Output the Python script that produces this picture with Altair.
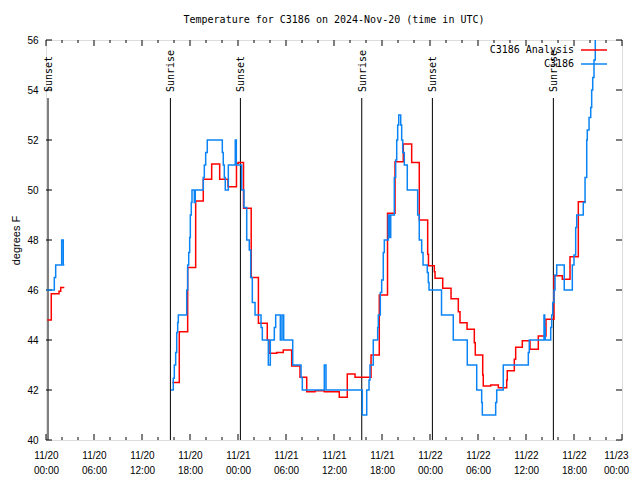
import altair as alt
import pandas as pd

# ---------------- data (hours after 2024-11-20 00:00 UTC, degrees F) ----------------
analysis1_hours = [0.16, 0.66, 1.63, 1.84, 2.29]
analysis1_temps = [44.8, 45.85, 45.95, 46.1, 46.1]

obs1_hours = [0.09, 1.04, 1.21, 1.96, 2.16, 2.29]
obs1_temps = [46.0, 46.5, 47.0, 48.0, 47.0, 47.0]

analysis2_hours = [15.79, 16.66, 17.71, 18.71, 19.66, 20.71, 21.71, 22.75, 23.81, 24.04,
                   24.69, 25.65, 26.55, 27.66, 27.88, 28.84, 29.66, 30.71, 31.75, 32.59,
                   33.63, 34.79, 36.66, 37.66, 38.63, 40.63, 41.66, 42.69, 43.63, 44.66,
                   45.71, 46.66, 47.71, 47.81, 48.54, 48.63, 49.59, 50.63, 51.54, 51.75,
                   52.63, 53.54, 53.66, 54.59, 54.66, 55.59, 56.54, 57.59, 57.66, 58.54,
                   58.71, 59.54, 60.5, 61.54, 62.5, 63.5, 64.54, 65.5, 66.54, 67.5]
analysis2_temps = [42.3, 44.33, 46.9, 49.56, 50.43, 51.04, 50.43, 50.13, 51.07, 51.1,
                   49.27, 46.5, 44.67, 44.0, 43.47, 43.5, 43.6, 42.96, 42.51, 41.93,
                   41.97, 41.93, 41.71, 42.64, 42.51, 43.4, 45.8, 49.07, 51.13, 51.84,
                   51.1, 48.8, 47.43, 46.97, 46.73, 46.47, 46.07, 45.65, 45.13, 44.69,
                   44.43, 43.89, 43.4, 42.6, 42.16, 42.2, 42.09, 42.4, 42.77, 43.23,
                   43.71, 43.97, 43.63, 44.16, 44.83, 46.57, 46.43, 47.33, 49.53, 49.53]

obs2_hours = [15.63, 15.91, 16.04, 16.21, 16.34, 16.46, 16.54, 17.59, 17.71, 17.84,
              17.96, 18.04, 18.16, 18.25, 18.54, 18.66, 19.66, 19.79, 19.96, 20.16,
              22.04, 22.16, 22.29, 22.41, 22.79, 23.66, 23.79, 24.46, 24.75, 25.09,
              25.41, 25.59, 25.79, 26.13, 26.88, 27.04, 27.79, 28.04, 28.54, 28.71,
              29.29, 29.5, 29.71, 30.84, 31.88, 32.04, 34.79, 35.0, 39.54, 40.09,
              40.38, 40.5, 40.91, 41.46, 41.54, 41.79, 41.96, 42.16, 42.29, 42.79,
              42.91, 43.09, 43.54, 43.71, 43.84, 43.96, 44.09, 44.34, 44.46, 44.59,
              44.79, 45.16, 46.46, 46.66, 46.96, 47.13, 47.66, 47.79, 47.88, 49.44,
              50.91, 52.66, 53.84, 54.46, 54.54, 56.21, 56.34, 57.16, 60.29, 60.41,
              62.25, 62.34, 62.41, 63.09, 63.21, 63.34, 63.5, 63.63, 63.84, 64.78,
              65.79, 66.0, 66.21, 66.34, 67.16, 67.38, 67.59, 67.66, 67.88, 68.09,
              68.21, 68.34, 68.5, 68.66]
obs2_temps = [42.0, 42.47, 43.0, 43.5, 44.3, 44.7, 45.0, 46.0, 47.0, 47.5,
              48.1, 49.0, 49.5, 50.0, 49.5, 50.0, 50.5, 51.0, 51.5, 52.0,
              51.5, 51.0, 50.5, 50.0, 51.0, 52.0, 51.0, 50.0, 49.3, 48.0,
              47.6, 46.5, 45.5, 45.0, 44.5, 44.0, 43.0, 44.0, 44.5, 45.0,
              44.0, 45.0, 44.0, 43.0, 42.5, 42.0, 43.0, 42.0, 41.0, 42.0,
              42.4, 43.0, 44.0, 44.5, 45.0, 45.9, 46.4, 47.5, 48.0, 49.0,
              48.1, 49.0, 50.5, 51.2, 52.0, 52.6, 53.0, 52.6, 52.0, 51.5,
              51.0, 50.0, 49.0, 48.0, 47.5, 47.0, 46.7, 46.3, 46.0, 45.0,
              44.0, 43.0, 42.0, 41.5, 41.0, 41.5, 42.0, 43.0, 43.5, 44.0,
              45.0, 44.5, 44.0, 44.5, 45.0, 45.5, 46.0, 46.6, 47.0, 46.0,
              47.0, 47.4, 48.5, 49.0, 49.5, 50.5, 52.0, 52.4, 52.9, 53.3,
              54.0, 54.5, 55.2, 57.5]

event_names = ["Sunset", "Sunrise", "Sunset", "Sunrise", "Sunset", "Sunrise"]
event_hours = [0.25, 15.55, 24.3, 39.47, 48.3, 63.42]

series_names = ["C3186 Analysis", "C3186"]
series_colors = ["#ff0000", "#0a84f5"]

x_major_hours = list(range(0, 73, 6))
x_minor_hours = [h for h in range(2, 72, 2) if h % 6 != 0]
y_ticks = [40, 42, 44, 46, 48, 50, 52, 54, 56]

# ---------------- helpers ----------------
BASE_MS = int(pd.Timestamp("2024-11-20T00:00:00Z").value // 10**6)
HOUR_MS = 3600 * 1000
END_MS = BASE_MS + 72 * HOUR_MS


def to_ms(hours):
    return [BASE_MS + h * HOUR_MS for h in hours]


def series_frame(name, segs):
    rows = []
    for i, (hrs, tmp) in enumerate(segs):
        for h, v in zip(hrs, tmp):
            rows.append({"series": name, "seg": i, "t": BASE_MS + h * HOUR_MS, "v": v})
    return pd.DataFrame(rows)


W, H = 576, 400
FONT = "DejaVu Sans Mono"

analysis_df = series_frame(series_names[0], [(analysis1_hours, analysis1_temps),
                                             (analysis2_hours, analysis2_temps)])
obs_df = series_frame(series_names[1], [(obs1_hours, obs1_temps),
                                        (obs2_hours, obs2_temps)])
events_df = pd.DataFrame({"t": to_ms(event_hours), "name": event_names})
xmaj_df = pd.DataFrame({"t": to_ms(x_major_hours)})
xmin_df = pd.DataFrame({"t": to_ms(x_minor_hours)})
ytk_df = pd.DataFrame({"v": y_ticks})

xscale = alt.Scale(type="utc", domain=[BASE_MS, END_MS])
yscale = alt.Scale(domain=[40, 56], nice=False, zero=False)

xaxis = alt.Axis(
    values=to_ms(x_major_hours),
    labelExpr="[utcFormat(datum.value, '%m/%d'), utcFormat(datum.value, '%H:%M')]",
    tickSize=0, domain=False, grid=False, labelPadding=10, labelLineHeight=15,
    labelFlush=False, labelOverlap=False, labelBound=False, title=None,
    labelOffset={"condition": {"test": f"datum.value >= {END_MS}", "value": -6}, "value": 0},
)
yaxis = alt.Axis(
    values=y_ticks, tickSize=0, domain=False, grid=False, labelPadding=8,
    title="degrees F", titleX=-30, titleY=200, titleBaseline="middle",
    titleFontWeight="normal",
)


def X():
    return alt.X("t:Q", type="temporal", scale=xscale, axis=xaxis)


def Y():
    return alt.Y("v:Q", scale=yscale, axis=yaxis)


color = alt.Color(
    "series:N",
    scale=alt.Scale(domain=series_names, range=series_colors),
    legend=alt.Legend(
        title=None, orient="none", legendX=431, legendY=5, padding=0,
        symbolType="M99,0H125", symbolSize=4, symbolStrokeWidth=1.5,
        labelAlign="right", labelOffset=87, labelFont=FONT, labelFontSize=10,
        labelColor="black", rowPadding=4, labelBaseline="middle",
    ),
)

analysis_line = alt.Chart(analysis_df).mark_line(
    interpolate="step-after", strokeWidth=1.5, clip=True
).encode(x=X(), y=Y(), color=color, detail="seg:N")

obs_line = alt.Chart(obs_df).mark_line(
    interpolate="step-after", strokeWidth=1.5, clip=True
).encode(x=X(), y=Y(), color=color, detail="seg:N")

event_rules = alt.Chart(events_df).mark_rule(color="black", strokeWidth=1).encode(
    x=X(), y=alt.value(58), y2=alt.value(H)
)
event_text = alt.Chart(events_df).mark_text(
    angle=270, align="left", baseline="middle", font=FONT, fontSize=10, color="black", dy=1
).encode(x=X(), y=alt.value(52), text="name:N")

xmaj_bot = alt.Chart(xmaj_df).mark_rule(color="black").encode(
    x=X(), y=alt.value(H), y2=alt.value(H - 6))
xmaj_top = alt.Chart(xmaj_df).mark_rule(color="black").encode(
    x=X(), y=alt.value(0), y2=alt.value(6))
xmin_bot = alt.Chart(xmin_df).mark_rule(color="black").encode(
    x=X(), y=alt.value(H), y2=alt.value(H - 3))
xmin_top = alt.Chart(xmin_df).mark_rule(color="black").encode(
    x=X(), y=alt.value(0), y2=alt.value(3))
y_left = alt.Chart(ytk_df).mark_rule(color="black").encode(
    y=Y(), x=alt.value(0), x2=alt.value(6))
y_right = alt.Chart(ytk_df).mark_rule(color="black").encode(
    y=Y(), x=alt.value(W), x2=alt.value(W - 6))

chart = alt.layer(
    xmaj_bot, xmaj_top, xmin_bot, xmin_top, y_left, y_right,
    event_rules, event_text, analysis_line, obs_line,
).properties(
    width=W, height=H,
    autosize=alt.AutoSizeParams(type="none"),
    padding={"left": 38, "top": 32, "right": 10, "bottom": 38},
    title=alt.TitleParams(
        "Temperature for C3186 on 2024-Nov-20 (time in UTC)",
        font=FONT, fontSize=10, fontWeight="normal", anchor="middle",
        baseline="middle", offset=5, color="black",
    ),
).configure_view(
    stroke="black", strokeWidth=1
).configure_axis(
    labelFont=FONT, labelFontSize=10, labelColor="black",
    titleFont=FONT, titleFontSize=10, titleColor="black",
).configure(background="white")

chart.save("out.html", embed_options={"renderer": "svg", "actions": False})
